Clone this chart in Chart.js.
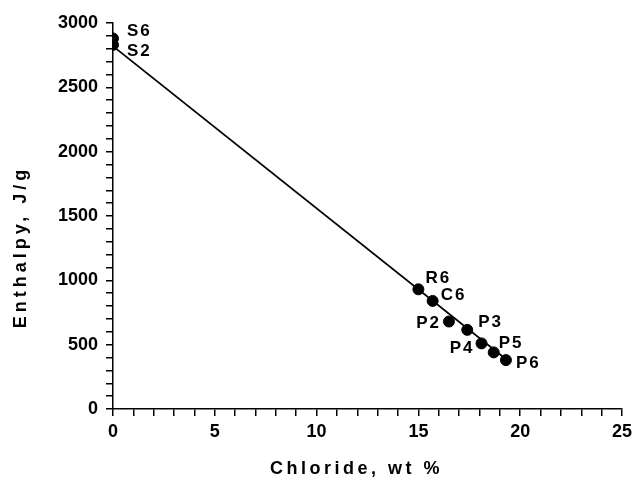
<!DOCTYPE html>
<html>
<head>
<meta charset="utf-8">
<script src="https://cdn.jsdelivr.net/npm/chart.js@4"></script>
<style>
  html, body { margin: 0; padding: 0; background: #fff; }
  canvas { display: block; }
</style>
</head>
<body>
<canvas id="chart" width="637" height="481"></canvas>
<script>
// samples
const sampleNames = ['S6', 'S2', 'R6', 'C6', 'P2', 'P3', 'P4', 'P5', 'P6'];
const chloride = [0, 0, 15.0, 15.7, 16.5, 17.4, 18.1, 18.7, 19.3];
const enthalpy = [2880, 2830, 930, 840, 680, 615, 510, 440, 380];

// mixing line
const lineChloride = [0, 19.4];
const lineEnthalpy = [2820, 375];

const xTickLabels = ['0', '5', '10', '15', '20', '25'];
const yTickLabels = ['0', '500', '1000', '1500', '2000', '2500', '3000'];
const xTitle = 'Chloride, wt %';
const yTitle = 'Enthalpy, J/g';

const FONT = '"Liberation Sans", Arial, sans-serif';

// where each sample name sits relative to its dot
const labelOffsets = {
  S6: [14, -7, 'left'], S2: [14, 6, 'left'], R6: [7, -11, 'left'],
  C6: [8, -6, 'left'], P2: [-8, 2, 'right'], P3: [11, -8, 'left'],
  P4: [-7, 5, 'right'], P5: [5, -9, 'left'], P6: [10, 3, 'left']
};

const annotate = {
  id: 'annotate',
  afterDatasetsDraw(c) {
    const ctx = c.ctx;
    const meta = c.getDatasetMeta(1);
    ctx.save();
    ctx.fillStyle = '#000';
    ctx.font = 'bold 17px ' + FONT;
    ctx.letterSpacing = '2px';
    ctx.textBaseline = 'middle';
    meta.data.forEach((pt, i) => {
      const name = sampleNames[i];
      const o = labelOffsets[name];
      ctx.textAlign = o[2];
      ctx.fillText(name, pt.x + o[0], pt.y + o[1]);
    });
    ctx.restore();
  },
  afterDraw(c) {
    const ctx = c.ctx;
    const a = c.chartArea;
    ctx.save();
    ctx.fillStyle = '#000';
    ctx.textAlign = 'center';
    ctx.textBaseline = 'middle';
    ctx.font = 'bold 18px ' + FONT;
    ctx.letterSpacing = '3.5px';
    ctx.fillText(xTitle, (a.left + a.right) / 2 - 11, a.bottom + 60);
    ctx.translate(21, (a.top + a.bottom) / 2 + 31);
    ctx.rotate(-Math.PI / 2);
    ctx.letterSpacing = '4px';
    ctx.fillText(yTitle, 0, 0);
    ctx.restore();
  }
};

const axisGrid = {
  drawOnChartArea: false,
  drawTicks: true,
  tickLength: 7,
  color: '#000',
  lineWidth: 1.5
};

new Chart(document.getElementById('chart'), {
  type: 'scatter',
  data: {
    datasets: [
      {
        type: 'line',
        data: lineChloride.map((x, i) => ({x: x, y: lineEnthalpy[i]})),
        borderColor: '#000',
        borderWidth: 1.6,
        pointRadius: 0,
        fill: false
      },
      {
        data: chloride.map((x, i) => ({x: x, y: enthalpy[i]})),
        backgroundColor: '#000',
        borderColor: '#000',
        pointRadius: 5.5,
        pointHoverRadius: 5.5
      }
    ]
  },
  options: {
    responsive: false,
    animation: false,
    layout: {padding: {left: 0, top: 23, right: 13, bottom: 0}},
    plugins: {legend: {display: false}, tooltip: {enabled: false}},
    scales: {
      x: {
        type: 'linear',
        min: 0, max: 25,
        grid: axisGrid,
        border: {color: '#000', width: 1.5},
        ticks: {
          stepSize: 1,
          autoSkip: false,
          maxRotation: 0,
          padding: 5,
          color: '#000',
          font: {family: FONT, size: 18, weight: 'bold'},
          callback: v => xTickLabels.includes(String(v)) ? String(v) : ''
        },
        afterFit: s => { s.height = 72; }
      },
      y: {
        type: 'linear',
        min: 0, max: 3000,
        grid: axisGrid,
        border: {color: '#000', width: 1.5},
        ticks: {
          stepSize: 100,
          autoSkip: false,
          padding: 8,
          color: '#000',
          font: {family: FONT, size: 18, weight: 'bold'},
          callback: v => yTickLabels.includes(String(v)) ? String(v) : ''
        },
        afterFit: s => { s.width = 113; }
      }
    }
  },
  plugins: [annotate]
});
</script>
</body>
</html>
